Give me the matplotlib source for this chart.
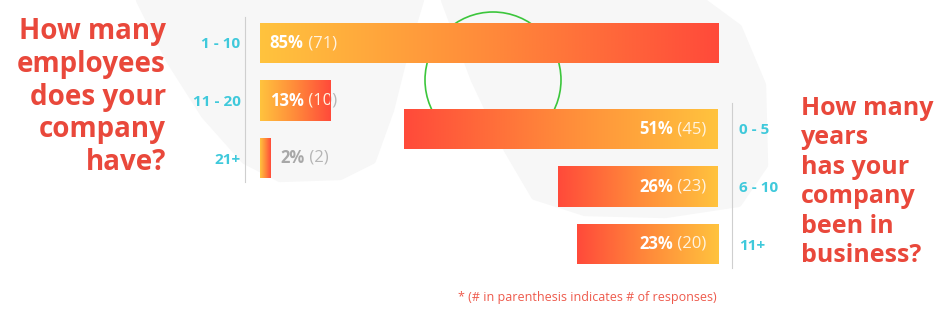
import numpy as np
import matplotlib
matplotlib.use("Agg")
import matplotlib.pyplot as plt
from matplotlib.colors import LinearSegmentedColormap
from matplotlib.patches import Circle, Polygon
from matplotlib.transforms import TransformedBbox
from matplotlib import transforms

plt.rcParams['font.family'] = ['Open Sans', 'DejaVu Sans']

# data
emp_cats = ['1 - 10', '11 - 20', '21+']
emp_pct = [85, 13, 2]
emp_n = [71, 10, 2]

yrs_cats = ['0 - 5', '6 - 10', '11+']
yrs_pct = [51, 26, 23]
yrs_n = [45, 23, 20]

RED = '#E9483B'
CYAN = '#3FC9DB'
cmap = LinearSegmentedColormap.from_list('yr', ['#FFC33E', '#FF8A3A', '#FF4A3A'])

W, H = 950, 317
fig = plt.figure(figsize=(W / 100, H / 100), dpi=100)


def box(x0, y0, x1, y1):
    # pixel box (top-left origin) -> figure fraction rect
    return [x0 / W, 1 - y1 / H, (x1 - x0) / W, (y1 - y0) / H]


# background decoration (faint blobs + green ring)
bg = fig.add_axes([0, 0, 1, 1], zorder=0)
bg.set_xlim(0, W)
bg.set_ylim(H, 0)
bg.axis('off')
blob_l = [(140, 0), (420, 0), (405, 50), (390, 110), (372, 160), (340, 176), (280, 178),
          (245, 160), (205, 115), (170, 60)]
blob_r = [(445, 0), (700, 0), (738, 28), (762, 85), (764, 165), (738, 203), (665, 214),
          (585, 212), (535, 196), (508, 150), (475, 80)]
for b in (blob_l, blob_r):
    bg.add_patch(Polygon(b, closed=True, color='#F7F7F7', lw=6, joinstyle='round'))
bg.add_patch(Circle((493, 80), 68, fill=False, edgecolor='#3CC63C', lw=1.2))


def grad_bars(ax, vals):
    bars = ax.barh(range(len(vals)), vals, height=0.7, color='none', edgecolor='none')
    grad = np.linspace(0, 1, 256).reshape(1, -1)
    for b in bars:
        x0, y0 = b.get_x(), b.get_y()
        w, h = b.get_width(), b.get_height()
        im = ax.imshow(grad, cmap=cmap, aspect='auto', interpolation='bilinear',
                       extent=(x0, x0 + w, y0 + h, y0), zorder=2)
        im.set_clip_path(b)
    return bars


def two_part(ax, x, y, bold, reg, cb, cr, ha, clip=None, z=3):
    # bold percentage followed by regular count, drawn as one label
    if ha == 'left':
        t1 = ax.text(x, y, bold, color=cb, fontsize=12, fontweight='bold',
                     ha='left', va='center', zorder=z)
        w = t1.get_window_extent(renderer).width
        tr = transforms.offset_copy(ax.transData, fig=fig, x=w * 72 / fig.dpi, units='points')
        t2 = ax.text(x, y, ' ' + reg, color=cr, fontsize=12, ha='left', va='center',
                     transform=tr, zorder=z)
    else:
        t2 = ax.text(x, y, ' ' + reg, color=cr, fontsize=12, ha='right', va='center', zorder=z)
        w = t2.get_window_extent(renderer).width
        tr = transforms.offset_copy(ax.transData, fig=fig, x=-w * 72 / fig.dpi, units='points')
        t1 = ax.text(x, y, bold, color=cb, fontsize=12, fontweight='bold',
                     ha='right', va='center', transform=tr, zorder=z)
    if clip is not None:
        cbox = TransformedBbox(clip.get_bbox(), ax.transData)
        for t in (t1, t2):
            t.set_clip_on(True)
            t.set_clip_box(cbox)


renderer = fig.canvas.get_renderer()

# left chart: employees
axl = fig.add_axes(box(260, 14.25, 730, 186.75), zorder=1)
axl.patch.set_alpha(0)
bars_l = grad_bars(axl, emp_pct)
axl.set_xlim(0, 470 / 5.39)
axl.set_ylim(2.5, -0.5)
for s in ['top', 'right', 'bottom']:
    axl.spines[s].set_visible(False)
axl.spines['left'].set_position(('outward', 11))
axl.spines['left'].set_color('#CFCFCF')
axl.spines['left'].set_bounds(-0.45, 2.42)
axl.set_xticks([])
axl.set_yticks(range(3))
axl.set_yticklabels(emp_cats, color=CYAN, fontsize=11, fontweight='bold')
axl.tick_params(axis='y', length=0, pad=3)
for i, (p, n) in enumerate(zip(emp_pct, emp_n)):
    x = 1.8 if p > 5 else p + 1.8
    # grey where the label runs past the bar, white on the bar itself
    two_part(axl, x, i, f'{p}%', f'({n})', '#A8A8A8', '#B5B5B5', 'left', z=1.5)
    two_part(axl, x, i, f'{p}%', f'({n})', 'white', '#FFF3E0', 'left', clip=bars_l[i], z=3)

# right chart: years in business
axr = fig.add_axes(box(380, 100.25, 718, 272.75), zorder=1)
axr.patch.set_alpha(0)
bars_r = grad_bars(axr, yrs_pct)
axr.set_xlim(338 / 6.15, 0)
axr.set_ylim(2.5, -0.5)
for s in ['top', 'left', 'bottom']:
    axr.spines[s].set_visible(False)
axr.spines['right'].set_position(('outward', 10))
axr.spines['right'].set_color('#CFCFCF')
axr.spines['right'].set_bounds(-0.45, 2.42)
axr.set_xticks([])
axr.yaxis.tick_right()
axr.set_yticks(range(3))
axr.set_yticklabels(yrs_cats, color=CYAN, fontsize=11, fontweight='bold')
axr.tick_params(axis='y', length=0, pad=5)
for i, (p, n) in enumerate(zip(yrs_pct, yrs_n)):
    two_part(axr, 1.9, i, f'{p}%', f'({n})', 'white', '#FFF3E0', 'right')

# titles
fig.text(166 / W, 1 - 97 / H, 'How many\nemployees\ndoes your\ncompany\nhave?',
         ha='right', va='center', color=RED, fontsize=20, fontweight='bold',
         linespacing=1.18, zorder=5)
fig.text(801 / W, 1 - 182 / H, 'How many\nyears\nhas your\ncompany\nbeen in\nbusiness?',
         ha='left', va='center', color=RED, fontsize=18, fontweight='bold',
         linespacing=1.23, zorder=5)
fig.text(587 / W, 1 - 298 / H, '* (# in parenthesis indicates # of responses)',
         ha='center', va='center', color='#EE5A4C', fontsize=9, zorder=5)

fig.savefig('out.png', dpi=100, facecolor='white')
